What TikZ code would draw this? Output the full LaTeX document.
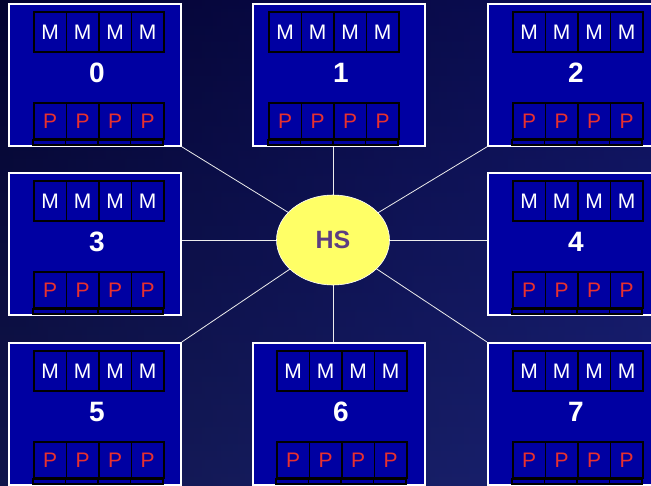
\documentclass[tikz,border=0pt]{standalone}
\usepackage{fontspec}
\setmainfont{Liberation Sans}
\usetikzlibrary{shapes.geometric}
\definecolor{bgtop}{HTML}{05054A}
\definecolor{bgbot}{HTML}{1A2274}
\definecolor{boxblue}{HTML}{0000A2}
\definecolor{pred}{HTML}{E8302E}
\definecolor{hsyellow}{HTML}{FFFF66}
\definecolor{hspurple}{HTML}{5C3D82}

\begin{document}
\begin{tikzpicture}[x=1pt,y=-1pt,
  box/.style={draw=white,line width=1.8pt,fill=boxblue,minimum width=172pt,minimum height=142pt,anchor=north west,inner sep=0pt},
  mcell/.style={draw=black,line width=1.8pt,minimum width=32.5pt,minimum height=40pt,anchor=north west,inner sep=0pt,text=white,font=\fontsize{21}{21}\selectfont},
  pcell/.style={mcell,minimum height=36pt,text=pred},
  num/.style={text=white,font=\fontsize{28}{28}\selectfont\bfseries},
  link/.style={draw=white!85!gray,line width=0.8pt}]
  \useasboundingbox (0,0) rectangle (651,485);
  \shade[top color=bgtop,bottom color=bgbot] (0,0) rectangle (651,485);
  \shade[left color=black,right color=bgbot,opacity=0.35] (0,0) rectangle (651,485);
  % the eight units
  \foreach \n/\bx/\by/\off in {0/8/3/25,1/252/3/16,2/487/3/25,3/8/172/25,4/487/172/25,5/8/342/25,6/252/342/24,7/487/342/25}{
    \node[box] (b\n) at (\bx,\by) {};
    \node[num] (l\n) at (\bx+89,\by+70) {\n};
    \foreach \i in {0,...,3}{
      \node[mcell] (m\n\i) at (\bx+\off+32.5*\i,\by+8) {M};
      \node[pcell] (p\n\i) at (\bx+\off+32.5*\i,\by+99) {P};
      \draw[line width=1.8pt] (p\n\i.south west) rectangle ++(32.5,5);
    }
  }
  % links to the hub
  \coordinate (hc) at (333,240);
  \draw[link] (hc) -- (b0.south east);
  \draw[link] (hc) -- (hc |- b1.south);
  \draw[link] (hc) -- (b2.south west);
  \draw[link] (hc) -- (hc -| b3.east);
  \draw[link] (hc) -- (hc -| b4.west);
  \draw[link] (hc) -- (b5.north east);
  \draw[link] (hc) -- (hc |- b6.north);
  \draw[link] (hc) -- (b7.north west);
  \node[ellipse,draw=white,line width=0.6pt,fill=hsyellow,minimum width=113pt,minimum height=90pt,text=hspurple,font=\fontsize{25}{25}\selectfont\bfseries] (hs) at (hc) {HS};
\end{tikzpicture}
\end{document}
